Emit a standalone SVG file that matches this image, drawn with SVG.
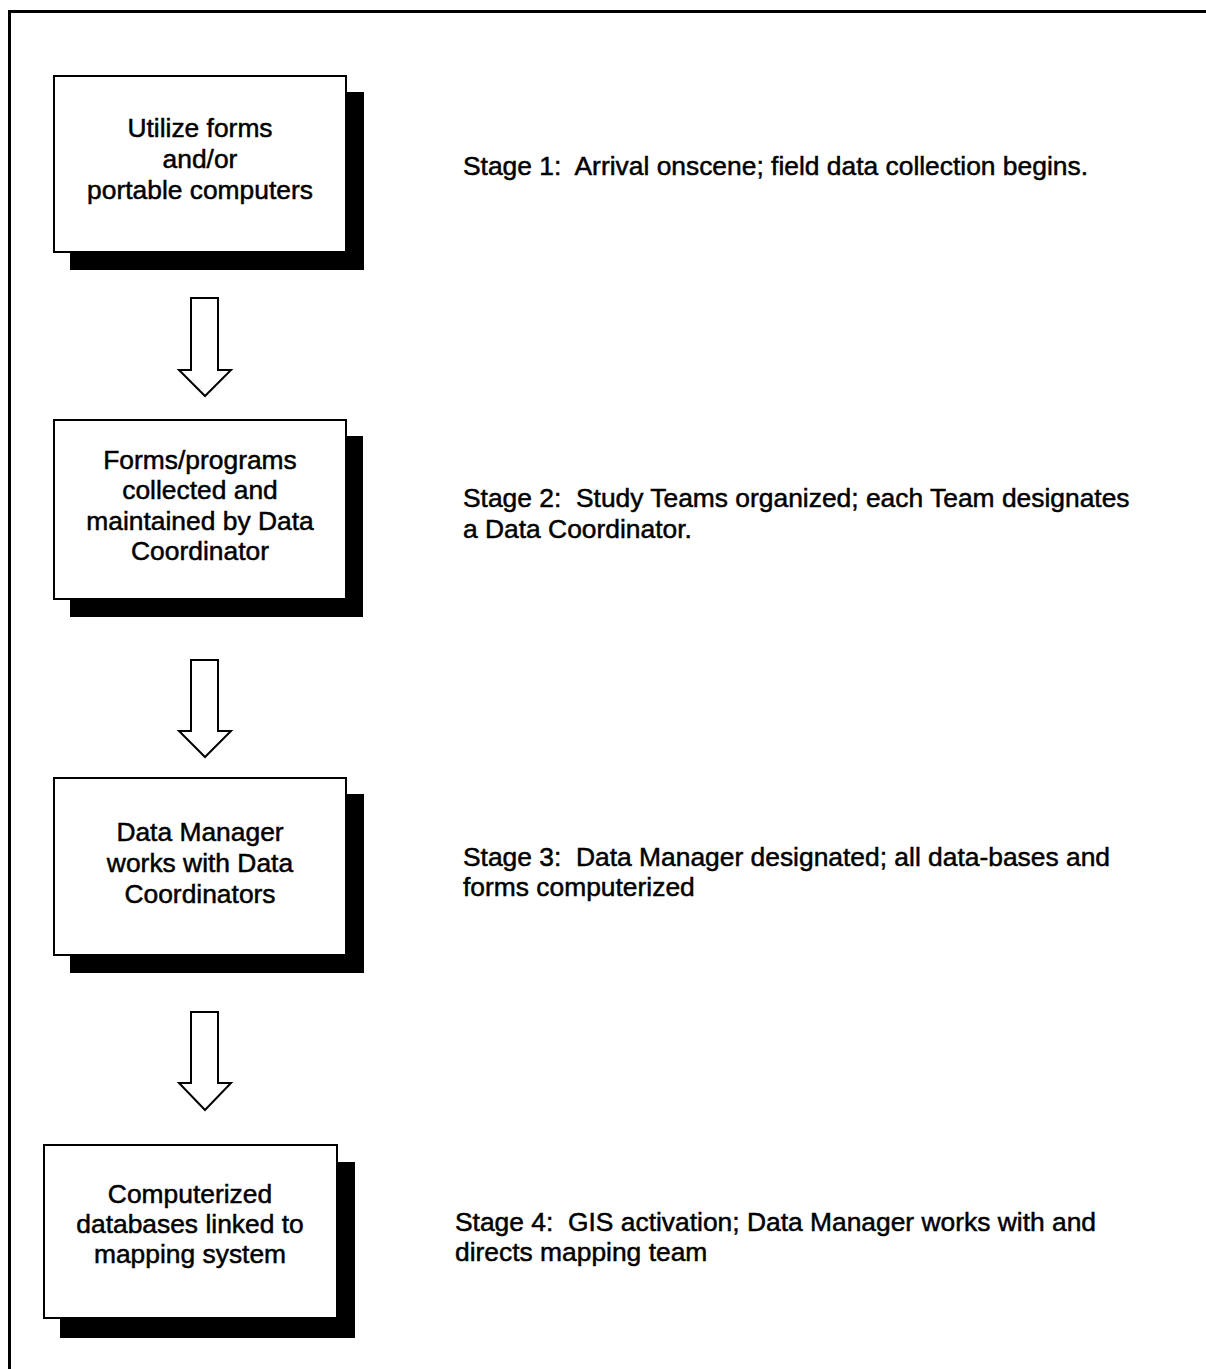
<svg xmlns="http://www.w3.org/2000/svg" width="1206" height="1369" viewBox="0 0 1206 1369">
<style>
.frame{fill:none;stroke:#000;stroke-width:3}
.box{fill:#fff;stroke:#000;stroke-width:2}
.shadow{fill:#000}
.arrow{fill:#fff;stroke:#000;stroke-width:2;stroke-linejoin:miter}
.t{font-family:"Liberation Sans",Arial,sans-serif;font-size:26.4px;fill:#000;stroke:#000;stroke-width:0.5;white-space:pre}
.c{text-anchor:middle}
</style>
<rect x="0" y="0" width="1206" height="1369" fill="#fff"/>
<path class="frame" d="M9.5,1369 V11.5 H1206"/>

<g id="node1">
<rect class="shadow" x="70" y="92" width="294" height="178"/>
<rect class="box" x="54" y="76" width="292" height="176"/>
<text class="t c" x="200" y="137">Utilize forms</text>
<text class="t c" x="200" y="168">and/or</text>
<text class="t c" x="200" y="199">portable computers</text>
</g>

<g id="node2">
<rect class="shadow" x="70" y="436" width="293" height="181"/>
<rect class="box" x="54" y="420" width="292" height="179"/>
<text class="t c" x="200" y="469">Forms/programs</text>
<text class="t c" x="200" y="499">collected and</text>
<text class="t c" x="200" y="530">maintained by Data</text>
<text class="t c" x="200" y="560">Coordinator</text>
</g>

<g id="node3">
<rect class="shadow" x="70" y="794" width="294" height="179"/>
<rect class="box" x="54" y="778" width="292" height="177"/>
<text class="t c" x="200" y="841">Data Manager</text>
<text class="t c" x="200" y="872">works with Data</text>
<text class="t c" x="200" y="903">Coordinators</text>
</g>

<g id="node4">
<rect class="shadow" x="60" y="1162" width="295" height="176"/>
<rect class="box" x="44" y="1145" width="293" height="173"/>
<text class="t c" x="190" y="1203">Computerized</text>
<text class="t c" x="190" y="1233">databases linked to</text>
<text class="t c" x="190" y="1263">mapping system</text>
</g>

<g id="stage1">
<text class="t" x="463" y="175">Stage 1:  Arrival onscene; field data collection begins.</text>
</g>
<g id="stage2">
<text class="t" x="463" y="507">Stage 2:  Study Teams organized; each Team designates</text>
<text class="t" x="463" y="538">a Data Coordinator.</text>
</g>
<g id="stage3">
<text class="t" x="463" y="866">Stage 3:  Data Manager designated; all data-bases and</text>
<text class="t" x="463" y="896">forms computerized</text>
</g>
<g id="stage4">
<text class="t" x="455" y="1231">Stage 4:  GIS activation; Data Manager works with and</text>
<text class="t" x="455" y="1261">directs mapping team</text>
</g>

<g id="connectors">
<path class="arrow" d="M191,298 H218 V370 H231 L205,396 L179,370 H191 Z"/>
<path class="arrow" d="M191,660 H218 V731 H231 L205,757 L179,731 H191 Z"/>
<path class="arrow" d="M191,1012 H218 V1083 H231 L205,1110 L179,1083 H191 Z"/>
</g>
</svg>
